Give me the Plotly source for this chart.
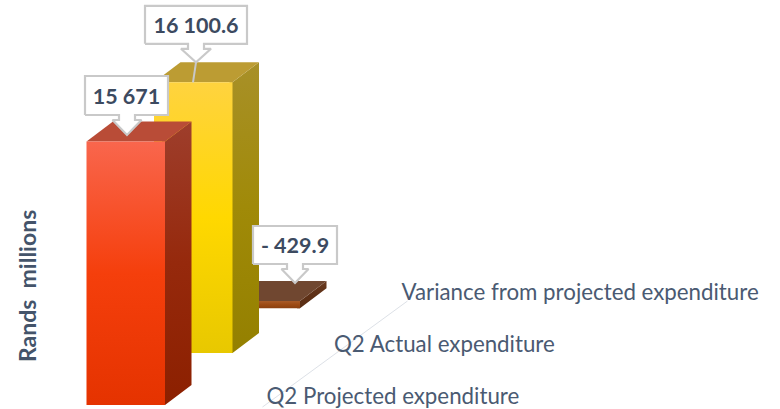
import plotly.graph_objects as go

categories = ["Q2 Projected expenditure", "Q2 Actual expenditure", "Variance from projected expenditure"]
values = [15671, 16100.6, -429.9]
value_labels = ["15 671", "16 100.6", "- 429.9"]
axis_title = "Rands  millions"

front_colors = [["#E53300", "#F53F0C", "#F9664D"], ["#E8C800", "#FFD800", "#FFD33F"], ["#8A4010", "#9C4A14", "#A85A28"]]
side_colors = [["#8C2000", "#96290C", "#9E3E2C"], ["#948000", "#A08A08", "#A89028"], ["#5A2E14", "#5E3016", "#6A3A20"]]
top_colors = ["#B94C37", "#BC9C33", "#704730"]

W, H = 780, 409
X0, Y0 = 86.5, 405.0      # pixel of first bar's front-left base
STEP_X, STEP_Y = 67.5, 52.0
BAR_W, DEPTH_X, DEPTH_Y = 78.5, 26.5, 20.0
PX_PER_VALUE = 263.5 / 15671
TEXT_NUDGE = -3
SEAM = 3.0                # side face runs a little under the front face

def X(i, px=0.0):
    return i + px / STEP_X

def Y(i, v=0.0, px=0.0):
    return v + (i * STEP_Y + px) / PX_PER_VALUE

fig = go.Figure()

def poly(xs, ys, colors=None, flat=None):
    kw = dict(x=xs + xs[:1], y=ys + ys[:1], mode="lines", fill="toself", line=dict(width=0),
              hoverinfo="skip", showlegend=False)
    if colors:
        kw["fillgradient"] = dict(type="vertical",
                                  colorscale=[[0, colors[0]], [0.5, colors[1]], [1, colors[2]]])
        kw["fillcolor"] = colors[1]
    else:
        kw["fillcolor"] = flat
    fig.add_trace(go.Scatter(**kw))

# depth axis line
fig.add_trace(go.Scatter(
    x=[X(0, 176), X(2, 186)], y=[Y(0, 0, -2), Y(2, 0, 0)], mode="lines",
    line=dict(color="#DDE1E7", width=1), hoverinfo="skip", showlegend=False))

# bars, back to front
for i in reversed(range(len(values))):
    v = values[i]
    hi, lo = max(v, 0), min(v, 0)
    fx = [X(i), X(i, BAR_W), X(i, BAR_W), X(i)]
    fy = [Y(i, hi), Y(i, hi), Y(i, lo), Y(i, lo)]
    sx = [X(i, BAR_W - SEAM), X(i, BAR_W), X(i, BAR_W + DEPTH_X), X(i, BAR_W + DEPTH_X), X(i, BAR_W), X(i, BAR_W - SEAM)]
    sy = [Y(i, hi), Y(i, hi), Y(i, hi, DEPTH_Y), Y(i, lo, DEPTH_Y), Y(i, lo), Y(i, lo)]
    tx = [X(i), X(i, DEPTH_X), X(i, BAR_W + DEPTH_X), X(i, BAR_W)]
    ty = [Y(i, hi), Y(i, hi, DEPTH_Y), Y(i, hi, DEPTH_Y), Y(i, hi)]
    poly(sx, sy, colors=side_colors[i])
    poly(tx, ty, flat=top_colors[i])
    poly(fx, fy, colors=front_colors[i])

# callouts (relative to each bar's top): left, right, box bottom, box top, tip x/y above the bar
callout = [
    dict(l=-1.5, r=81.5, b=26.5, t=65.5, cx=40.5, tip=6.5, w=14.5, stem=0),
    dict(l=-9, r=93, b=38.5, t=76.5, cx=42, tip=20, w=15, stem=1),
    dict(l=31.5, r=115.5, b=37, t=75, cx=73.5, tip=18, w=13.5, stem=0),
]
text_x, text_y = [], []
for i, c in enumerate(callout):
    top = max(values[i], 0)
    if c["stem"]:
        fig.add_trace(go.Scatter(
            x=[X(i, c["cx"]), X(i, c["cx"] - 3)], y=[Y(i, top, c["tip"]), Y(i, top, 0)],
            mode="lines", line=dict(color="#C8C8C8", width=2), hoverinfo="skip", showlegend=False))
    m = c["cx"]
    w = c["w"]
    n = 8
    bx = [c["l"], m - n, m - n, m - w, m, m + w, m + n, m + n, c["r"], c["r"], c["l"], c["l"]]
    by = [c["b"], c["b"], c["b"] - 5, c["b"] - 5, c["tip"], c["b"] - 5, c["b"] - 5, c["b"], c["b"], c["t"], c["t"], c["b"]]
    fig.add_trace(go.Scatter(
        x=[X(i, p) for p in bx], y=[Y(i, top, p) for p in by], mode="lines", fill="toself",
        fillcolor="#FFFFFF", line=dict(color="#C9C9C9", width=2.2), hoverinfo="skip", showlegend=False))
    text_x.append(X(i, (c["l"] + c["r"]) / 2))
    text_y.append(Y(i, top, (c["b"] + c["t"]) / 2 + TEXT_NUDGE))

fig.add_trace(go.Scatter(
    x=text_x, y=text_y, mode="text", text=value_labels, textposition="middle center",
    textfont=dict(family="Lato", size=21.5, color="#3C4A60", weight="bold"),
    hoverinfo="skip", showlegend=False))

# category labels
fig.add_trace(go.Scatter(
    x=[X(i, 180) for i in range(3)], y=[Y(i, 0, 7) for i in range(3)], mode="text",
    text=categories, textposition="middle right",
    textfont=dict(family="Lato", size=22.3, color="#4A5A72"), hoverinfo="skip", showlegend=False))

fig.add_annotation(x=27 / W, y=(H - 286) / H, xref="paper", yref="paper", showarrow=False, textangle=-90,
                   xanchor="center", yanchor="middle",
                   text=axis_title, font=dict(family="Lato", size=23, color="#44546A", weight="bold"))

fig.update_layout(
    width=W, height=H, margin=dict(l=0, r=0, t=0, b=0),
    paper_bgcolor="#FFFFFF", plot_bgcolor="#FFFFFF", showlegend=False,
    xaxis=dict(visible=False, range=[-X0 / STEP_X, (W - X0) / STEP_X], fixedrange=True),
    yaxis=dict(visible=False, range=[-(H - Y0) / PX_PER_VALUE, Y0 / PX_PER_VALUE], fixedrange=True),
)
fig.write_html("out.html", config={"displayModeBar": False},
               post_script="document.body.style.margin='0';document.body.style.overflow='hidden';")
